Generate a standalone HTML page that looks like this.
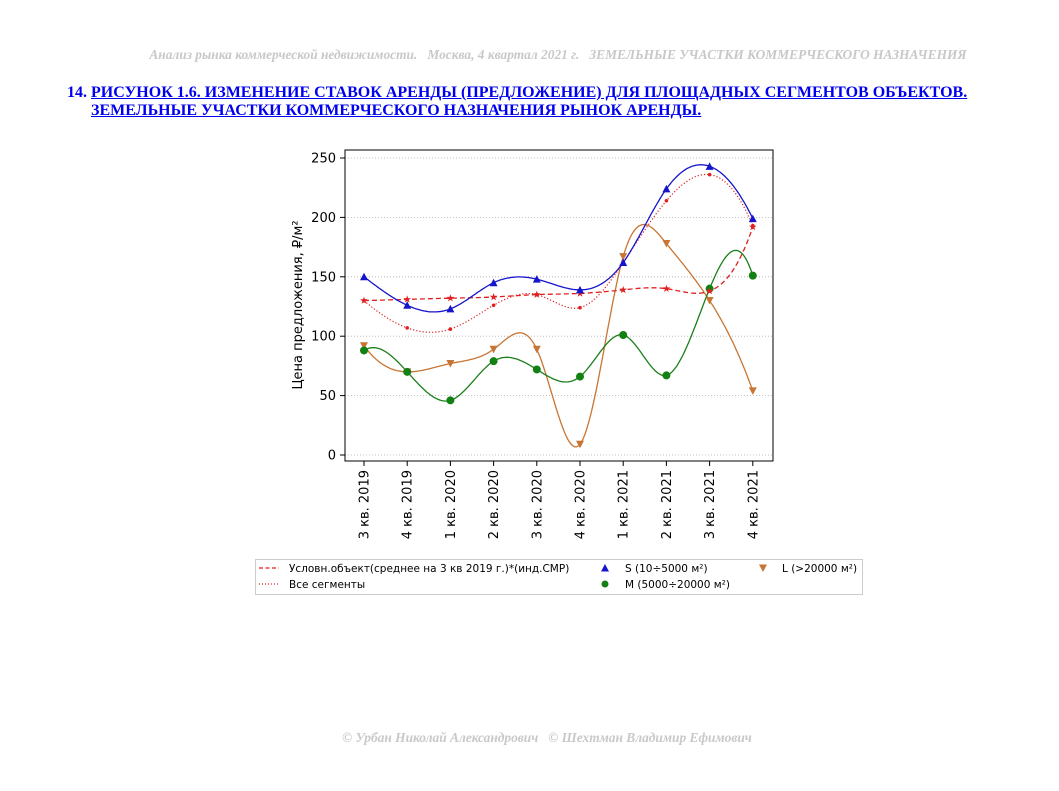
<!DOCTYPE html>
<html><head><meta charset="utf-8"><style>
body{margin:0;background:#fff;width:1059px;height:791px;position:relative;overflow:hidden}
.hdr{position:absolute;left:0;width:1116px;top:47px;text-align:center;font:italic bold 13.4px "Liberation Serif",serif;color:#c8c8c8;white-space:nowrap}
.ttl{position:absolute;left:67px;top:84px;font:bold 16px "Liberation Serif",serif;color:#0000ee;line-height:18px;white-space:nowrap}
.ttl u{color:#0000ee}
.ftr{position:absolute;left:0;width:1094px;top:730px;text-align:center;font:italic bold 13.4px "Liberation Serif",serif;color:#c8c8c8;white-space:nowrap}
svg{position:absolute;left:0;top:0}
</style></head><body>
<div class="hdr">Анализ рынка коммерческой недвижимости.&nbsp;&nbsp; Москва, 4 квартал 2021 г.&nbsp;&nbsp; ЗЕМЕЛЬНЫЕ УЧАСТКИ КОММЕРЧЕСКОГО НАЗНАЧЕНИЯ</div>
<div class="ttl">14. <u>РИСУНОК 1.6. ИЗМЕНЕНИЕ СТАВОК АРЕНДЫ (ПРЕДЛОЖЕНИЕ) ДЛЯ ПЛОЩАДНЫХ СЕГМЕНТОВ ОБЪЕКТОВ.</u><br><span style="display:inline-block;width:24px"></span><u>ЗЕМЕЛЬНЫЕ УЧАСТКИ КОММЕРЧЕСКОГО НАЗНАЧЕНИЯ РЫНОК АРЕНДЫ.</u></div>
<div class="ftr">© Урбан Николай Александрович&nbsp;&nbsp; © Шехтман Владимир Ефимович</div>
<svg id="s" width="1059" height="791" xmlns="http://www.w3.org/2000/svg" font-family="DejaVu Sans, Liberation Sans, sans-serif"></svg>
<script>
const s=document.getElementById('s');let h='';
const X=i=>364+i*43.2, Y=v=>455-v*1.188;
for(let v=0;v<=250;v+=50){h+=`<line x1="345" x2="773" y1="${Y(v)}" y2="${Y(v)}" stroke="#b0b0b0" stroke-width="0.8" stroke-dasharray="1,2"/>`;
h+=`<line x1="340" x2="345" y1="${Y(v)}" y2="${Y(v)}" stroke="#000"/>`;
h+=`<text x="336" y="${Y(v)+4.5}" font-size="13" text-anchor="end">${v}</text>`;}
const labs=['3 кв. 2019','4 кв. 2019','1 кв. 2020','2 кв. 2020','3 кв. 2020','4 кв. 2020','1 кв. 2021','2 кв. 2021','3 кв. 2021','4 кв. 2021'];
labs.forEach((l,i)=>{h+=`<line x1="${X(i)}" x2="${X(i)}" y1="461" y2="466" stroke="#000"/>`;
h+=`<text transform="translate(${X(i)+4.5},470) rotate(-90)" font-size="13" text-anchor="end">${l}</text>`;});
h+=`<text transform="translate(302,305) rotate(-90)" font-size="13" text-anchor="middle">Цена предложения, ₽/м²</text>`;
function solve(A,b){const n=b.length;for(let i=0;i<n;i++){let p=i;for(let r=i+1;r<n;r++)if(Math.abs(A[r][i])>Math.abs(A[p][i]))p=r;[A[i],A[p]]=[A[p],A[i]];[b[i],b[p]]=[b[p],b[i]];for(let r=i+1;r<n;r++){const f=A[r][i]/A[i][i];for(let c=i;c<n;c++)A[r][c]-=f*A[i][c];b[r]-=f*b[i];}}const x=new Array(n);for(let i=n-1;i>=0;i--){let s=b[i];for(let c=i+1;c<n;c++)s-=A[i][c]*x[c];x[i]=s/A[i][i];}return x;}
function spline(y){const n=y.length;
// not-a-knot: solve for second derivatives M
const A=[],b=[];for(let i=0;i<n;i++){A.push(new Array(n).fill(0));b.push(0);}
A[0][0]=1;A[0][1]=-2;A[0][2]=1;
for(let i=1;i<n-1;i++){A[i][i-1]=1;A[i][i]=4;A[i][i+1]=1;b[i]=6*(y[i+1]-2*y[i]+y[i-1]);}
A[n-1][n-3]=1;A[n-1][n-2]=-2;A[n-1][n-1]=1;
const Mm=solve(A,b);
let p='';for(let j=0;j<n-1;j++){for(let t=0;t<=1.0001;t+=0.04){const u=1-t;const v=u*y[j]+t*y[j+1]+((u*u*u-u)*Mm[j]+(t*t*t-t)*Mm[j+1])/6;p+=(p?'L':'M')+X(j+t).toFixed(1)+','+Y(v).toFixed(1);}}return p;}
const S=[150,126,123,145,148,139,162,224,243,199],Cn=[130,131,132,133,135,136,139,140,138,192],A=[130,107,106,126,135,124,162,214,236,193],M=[88,70,46,79,72,66,101,67,140,151],L=[92,70,77,89,89,9,167,178,130,54];
h+=`<path d="${spline(L)}" fill="none" stroke="#c87533" stroke-width="1.3"/>`;
h+=`<path d="${spline(M)}" fill="none" stroke="#1a7f1a" stroke-width="1.3"/>`;
h+=`<path d="${spline(A)}" fill="none" stroke="#e02020" stroke-width="1.2" stroke-dasharray="1.2,2"/>`;
h+=`<path d="${spline(Cn)}" fill="none" stroke="#e02020" stroke-width="1.3" stroke-dasharray="5,3"/>`;
h+=`<path d="${spline(S)}" fill="none" stroke="#1515cc" stroke-width="1.3"/>`;
const tri=(x,y,c,down)=>down?`<path d="M${x-4},${y-3.5}L${x+4},${y-3.5}L${x},${y+4}Z" fill="${c}"/>`:`<path d="M${x-4},${y+3.5}L${x+4},${y+3.5}L${x},${y-4}Z" fill="${c}"/>`;
const star=(x,y)=>{let p='';for(let k=0;k<10;k++){const r=k%2?1.6:4,a=-Math.PI/2+k*Math.PI/5;p+=(k?'L':'M')+(x+r*Math.cos(a)).toFixed(1)+','+(y+r*Math.sin(a)).toFixed(1);}return `<path d="${p}Z" fill="#e02020"/>`;};
L.forEach((v,i)=>h+=tri(X(i),Y(v),'#c87533',1));
M.forEach((v,i)=>h+=`<circle cx="${X(i)}" cy="${Y(v)}" r="4" fill="#138013"/>`);
A.forEach((v,i)=>h+=`<circle cx="${X(i)}" cy="${Y(v)}" r="1.8" fill="#e02020"/>`);
Cn.forEach((v,i)=>h+=star(X(i),Y(v)));
S.forEach((v,i)=>h+=tri(X(i),Y(v),'#1515cc',0));
h+=`<rect x="345" y="150" width="428" height="311" fill="none" stroke="#000" stroke-width="1"/>`;
h+=`<rect x="255.5" y="559.5" width="607" height="35" fill="#fff" stroke="#ccc"/>`;
h+=`<line x1="259" x2="279" y1="568" y2="568" stroke="#e02020" stroke-dasharray="4,2.5" stroke-width="1.2"/>`;
h+=`<line x1="259" x2="279" y1="584" y2="584" stroke="#e02020" stroke-dasharray="1,2" stroke-width="1.2"/>`;
h+=`<text x="289" y="572" font-size="10.5">Условн.объект(среднее на 3 кв 2019 г.)*(инд.СМР)</text>`;
h+=`<text x="289" y="588" font-size="10.5">Все сегменты</text>`;
h+=tri(605,568,'#1515cc',0)+`<circle cx="605" cy="584" r="3.5" fill="#138013"/>`;
h+=`<text x="625" y="572" font-size="10.5">S (10÷5000 м²)</text><text x="625" y="588" font-size="10.5">M (5000÷20000 м²)</text>`;
h+=tri(763,568,'#c87533',1)+`<text x="782" y="572" font-size="10.5">L (&gt;20000 м²)</text>`;
s.innerHTML=h;
</script>
</body></html>
